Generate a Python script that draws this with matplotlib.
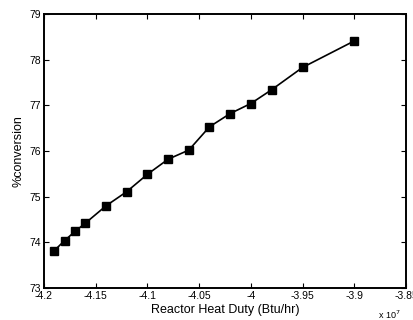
import matplotlib
matplotlib.use("Agg")
import matplotlib.pyplot as plt
from matplotlib.ticker import FormatStrFormatter

plt.rcParams['font.family'] = ['Liberation Sans', 'DejaVu Sans']
plt.rcParams['axes.unicode_minus'] = False

heat_duty = [-4.19, -4.18, -4.17, -4.16, -4.14, -4.12, -4.10, -4.08, -4.06,
             -4.04, -4.02, -4.00, -3.98, -3.95, -3.90]
conversion = [73.82, 74.04, 74.24, 74.42, 74.80, 75.11, 75.49, 75.82, 76.02,
              76.53, 76.82, 77.04, 77.34, 77.83, 78.41]
xticks = [-4.2, -4.15, -4.1, -4.05, -4.0, -3.95, -3.9, -3.85]
yticks = [73, 74, 75, 76, 77, 78, 79]

fig = plt.figure(figsize=(4.14, 3.2), dpi=100)
ax = fig.add_axes([44/414, 1-288/320, 362/414, 274/320])
ax.plot(heat_duty, conversion, color='black', lw=1.2, marker='s', ms=6,
        mfc='black', mec='black')
ax.set_xlim(-4.2, -3.85)
ax.set_ylim(73, 79)
ax.set_xticks(xticks)
ax.set_yticks(yticks)
ax.xaxis.set_major_formatter(FormatStrFormatter('%g'))
ax.yaxis.set_major_formatter(FormatStrFormatter('%g'))
ax.tick_params(direction='in', length=3.5, width=0.8, top=True, right=True,
               labelsize=7.5, pad=2, colors='black')
for s in ax.spines.values():
    s.set_linewidth(1.4)
ax.set_xlabel('Reactor Heat Duty (Btu/hr)', fontsize=9, labelpad=2)
ax.set_ylabel('%conversion', fontsize=9, labelpad=4)
fig.text(389/414, 1-315/320, r'x 10$^{7}$', fontsize=6.5, ha='center', va='center')
fig.savefig('out.png', dpi=100)
